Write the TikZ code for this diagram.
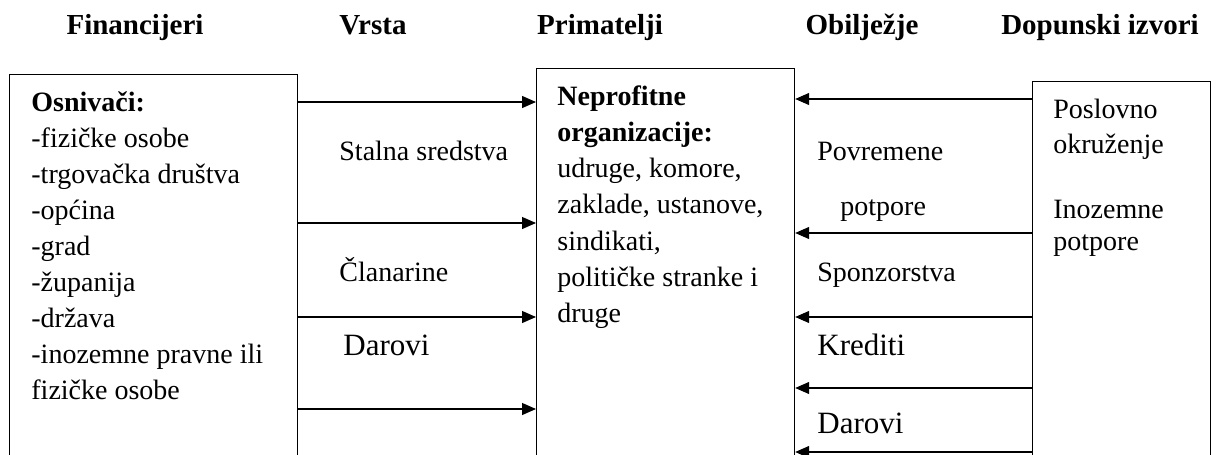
\documentclass[tikz,border=0pt]{standalone}
\usepackage{fontspec}
\setmainfont{Liberation Serif}
\usetikzlibrary{arrows.meta}
\tikzset{
  box/.style={draw, line width=0.6pt, anchor=north west, inner sep=0pt},
  txt/.style={anchor=base west, inner sep=0pt, font=\fontsize{14}{18}\selectfont},
  bigtxt/.style={txt, font=\fontsize{15.5}{18}\selectfont},
  head/.style={anchor=base, inner sep=0pt, font=\fontsize{14.5}{18}\selectfont\bfseries},
  tok/.style={draw, line width=0.6pt, -{Triangle[length=7pt,width=6pt]}}
}

\begin{document}
\begin{tikzpicture}[x=0.5pt, y=-0.5pt]
        \useasboundingbox (0,0) rectangle (1222,455);
        \clip (0,0) rectangle (1222,455);

        \node[head] (fin) at (135,34) {Financijeri};
        \node[head] (vrs) at (373,34) {Vrsta};
        \node[head] (pri) at (600,34) {Primatelji};
        \node[head] (obi) at (862,34) {Obilježje};
        \node[head] (dop) at (1100,34) {Dopunski izvori};

        \node[box, minimum width=144pt, minimum height=220pt] (lbox) at (9,74) {};
        \node[box, minimum width=129pt, minimum height=220pt] (mbox) at (536,68) {};
        \node[box, minimum width=89pt, minimum height=220pt] (rbox) at (1032,81) {};

        \node[txt] (osn) at (31,111) {\bfseries Osnivači:};
        \foreach \t [count=\i] in {-fizičke osobe, -trgovačka društva, -općina,
          -grad, -županija, -država, -inozemne pravne ili, fizičke osobe}
        \node[txt] (osn\i) at (31,111+36*\i) {\t};

        \node[txt] (npo1) at (557,105) {\bfseries Neprofitne};
        \node[txt] (npo2) at (557,141.3) {\bfseries organizacije:};
        \foreach \t [count=\i] in {{udruge, komore,}, {zaklade, ustanove,},
          {sindikati,}, {političke stranke i}, druge}
        \node[txt] (npo\i x) at (557,141.3+36.3*\i) {\t};

        \node[txt] (sta) at (339,160) {Stalna sredstva};
        \node[txt] (cla) at (339,281) {Članarine};
        \node[bigtxt] (dar) at (343,355) {Darovi};

        \node[txt] (pov) at (817,160) {Povremene};
        \node[txt] (pot) at (840,215) {potpore};
        \node[txt] (spo) at (817,281) {Sponzorstva};
        \node[bigtxt] (kre) at (817,355) {Krediti};
        \node[bigtxt] (dar2) at (817,433) {Darovi};

        \node[txt] (pos) at (1053,118) {Poslovno};
        \node[txt] (okr) at (1053,153) {okruženje};
        \node[txt] (ino) at (1053,218) {Inozemne};
        \node[txt] (ipo) at (1053,250) {potpore};

        \foreach \y [count=\i] in {102,223,317,409} {
          \coordinate (la\i) at (0,\y);
          \draw[tok] (lbox.east |- la\i) -- (mbox.west |- la\i);
        }
        \foreach \y [count=\i] in {99,233,317,388,452} {
          \coordinate (ra\i) at (0,\y);
          \draw[tok] (rbox.west |- ra\i) -- (mbox.east |- ra\i);
        }
\end{tikzpicture}
\end{document}
